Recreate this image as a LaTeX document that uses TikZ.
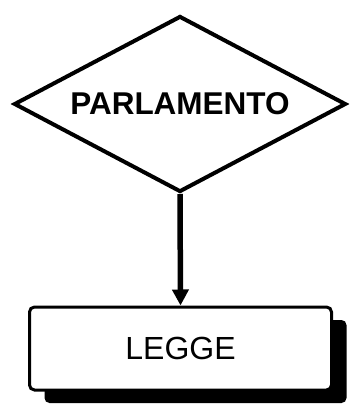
\documentclass[tikz,border=0pt]{standalone}
\usepackage{fontspec}
\setmainfont{Liberation Sans}
\usepackage{tikz}
\usetikzlibrary{
		arrows.meta,
		shadows,
		shapes.geometric
	}
\tikzset{%
		every text node part/.style = {
			align = center
		},
		decision/.style = {
			draw,
			diamond,
			aspect = 1.88,
			line width = 4pt,
			inner sep = 0pt,
			minimum width = 332pt,
			minimum height = 176pt,
			font = \fontsize{31.5}{31.5}\selectfont\bfseries
		},
		outcome/.style = {
			draw,
			rectangle,
			rounded corners = 5pt,
			line width = 3pt,
			fill = white,
			minimum width = 302pt,
			minimum height = 83pt,
			font = \fontsize{32}{32}\selectfont,
			drop shadow = {%
				shadow xshift = 15pt,%
				shadow yshift = -13pt,%
				fill = black,%
				opacity = 1%
			}
		},
		flow/.style = {
			line width = 5.5pt,
			-{Triangle[width=16pt,length=16pt]}
		}
	}

\begin{document}
\begin{tikzpicture}[x=1pt, y=-1pt]
		\useasboundingbox (0, 0) rectangle (350, 405);  % keep the page margins
		\node [decision] (parlamento) at (180, 104) {PARLAMENTO};
		\node [outcome] (legge) at (180.5, 348.5) {LEGGE};
		\draw [flow] (parlamento.south) -- (legge.north);
	\end{tikzpicture}
\end{document}
